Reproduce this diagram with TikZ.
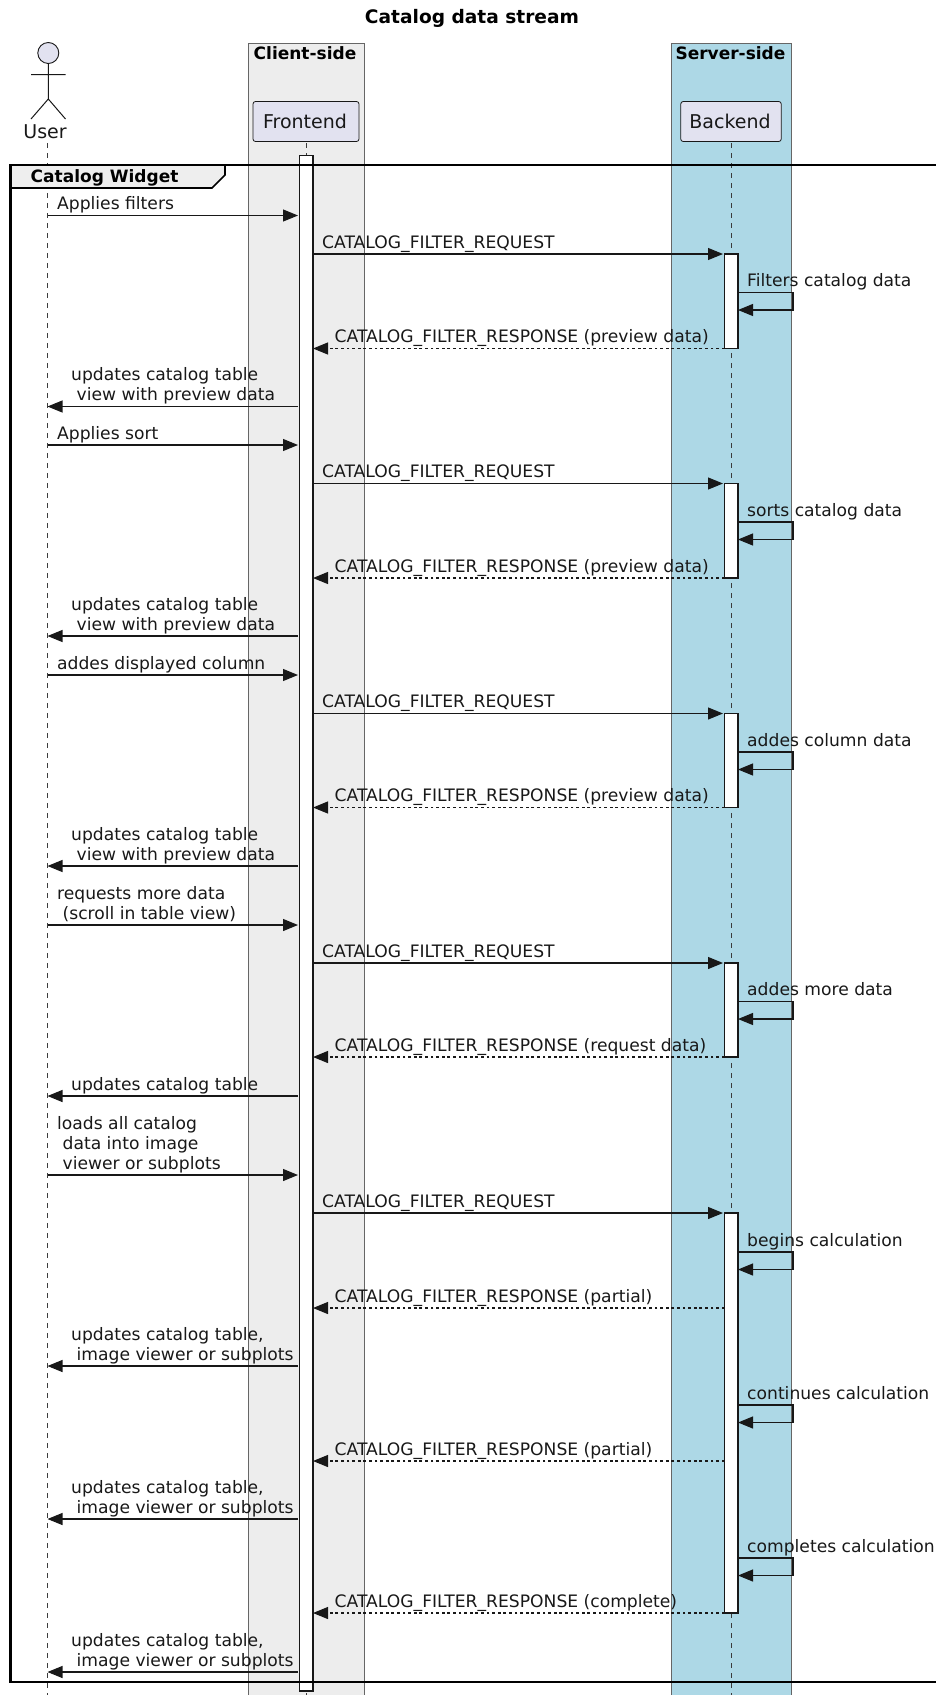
\documentclass[tikz,border=0pt]{standalone}
\usepackage{fontspec}
\setmainfont{DejaVu Sans}
\usetikzlibrary{arrows.meta}
\definecolor{ink}{HTML}{181818}
\definecolor{partfill}{HTML}{E2E2F0}
\definecolor{clientfill}{HTML}{EDEDED}
\definecolor{serverfill}{HTML}{ADD8E6}
\definecolor{tabfill}{HTML}{EEEEEE}
\tikzset{
  msgtext/.style={font=\fontsize{17.15}{20}\selectfont, text=ink, inner sep=0pt, anchor=base west, align=left},
  headtext/.style={font=\bfseries\fontsize{17}{20}\selectfont, text=black, inner sep=0pt, anchor=base},
  part/.style={draw=ink, fill=partfill, rounded corners=2.5pt, line width=0.8pt, minimum height=40pt, inner sep=0pt, font=\fontsize{19}{22}\selectfont, text=ink},
  lifeline/.style={draw=ink!85, line width=0.9pt, dash pattern=on 5pt off 5pt},
  sidebox/.style={draw=black!60, line width=1pt},
  bar/.style={draw=ink, fill=white, line width=1.1pt},
  msg/.style={draw=ink, line width=1.1pt, -{Triangle[length=15pt,width=12pt]}},
  reply/.style={msg, dash pattern=on 2.8pt off 2.8pt},
}
\begin{document}
\begin{tikzpicture}[x=1pt,y=-1pt]
\useasboundingbox (0,0) rectangle (936,1695);
% Title and side boxes
\node[headtext, font=\bfseries\fontsize{18.6}{22}\selectfont] (title) at (472,23) {Catalog data stream};
\filldraw[sidebox, fill=clientfill] (248,1700) -- (248,43) -- (364,43) -- (364,1700);
\filldraw[sidebox, fill=serverfill] (671,1700) -- (671,43) -- (791,43) -- (791,1700);
\node[headtext] (client) at (305,59) {Client-side};
\node[headtext] (server) at (730.5,59) {Server-side};
% Lifelines
\coordinate (userTop) at (47.5,143);
\coordinate (userEnd) at (47.5,1696);
\coordinate (frontTop) at (306,143);
\coordinate (frontEnd) at (306,1696);
\coordinate (backTop) at (731,143);
\coordinate (backEnd) at (731,1696);
\draw[lifeline] (userTop) -- (userEnd);
\draw[lifeline] (frontTop) -- (frontEnd);
\draw[lifeline] (backTop) -- (backEnd);
% Actor
\filldraw[draw=ink, fill=partfill, line width=0.9pt] (48.3,53) circle (10.5pt);
\draw[ink, line width=1pt] (48.3,63.5) -- (48.3,99) (31,74.5) -- (65.5,74.5) (31,119) -- (48.3,99) -- (65.5,119);
\node[font=\fontsize{19}{22}\selectfont, text=ink, inner sep=0pt, anchor=base] (user) at (45,138.7) {User};
% Participants
\node[part, minimum width=106pt, text depth=0pt, text height=14pt] (frontend) at (306,121.5) {\hspace*{-2pt}Frontend};
\node[part, minimum width=100.5pt, text depth=0pt, text height=14pt] (backend) at (731,121.5) {\hspace*{-2pt}Backend};
% Activation bars
\filldraw[bar] (299.5,155.5) rectangle (313,1691);
\foreach \top/\bot in {254/348.5, 483.5/578, 713.5/807.5, 963/1057, 1213/1613} {
    \filldraw[bar] (724.5,\top) rectangle (738,\bot);
}
% Group frame
\filldraw[draw=black, fill=tabfill, line width=1.6pt] (10.5,165) -- (225,165) -- (225,175) -- (212,188) -- (10.5,188) -- cycle;
\draw[black, line width=2.2pt] (940,165) -- (10.5,165) -- (10.5,1682) -- (940,1682);
\node[headtext, anchor=base west] (widget) at (30.5,182.7) {Catalog Widget};
% User to Frontend
\foreach \n/\y/\txt in {a/215.5/{Applies filters}, b/445/{Applies sort}, c/675/{addes displayed column}, d/925/{requests more data\\\ (scroll in table view)}, e/1175/{loads all catalog\\\ data into image\\\ viewer or subplots}} {
    \coordinate (ul\n) at (47.5,\y);
    \coordinate (fl\n) at (298,\y);
    \draw[msg] (ul\n) -- (fl\n);
    \node[msgtext, xshift=9.5pt, yshift=5.7pt] (ask\n) at (ul\n) {\txt};
}
% Frontend to Backend and back
\foreach \n/\y/\z/\txt in {a/254/348.5/preview data, b/483.5/578/preview data, c/713.5/807.5/preview data, d/963/1057/request data, e/1213/1308/partial, f/0/1461/partial, g/0/1613/complete} {
    \coordinate (fq\n) at (313,\y);
    \coordinate (bq\n) at (723,\y);
    \coordinate (fr\n) at (313,\z);
    \coordinate (br\n) at (724.5,\z);
    \ifdim\y pt>0pt
        \draw[msg] (fq\n) -- (bq\n);
        \node[msgtext, xshift=9pt, yshift=5.7pt] (req\n) at (fq\n) {CATALOG\_FILTER\_REQUEST};
    \fi
    \draw[reply] (br\n) -- (fr\n);
    \node[msgtext, xshift=21.5pt, yshift=5.7pt] (res\n) at (fr\n) {CATALOG\_FILTER\_RESPONSE (\txt)};
}
% Backend self messages
\foreach \n/\y/\w/\txt in {a/292.5/310/Filters catalog data, b/522/539.5/sorts catalog data, c/752/769.5/addes column data, d/1001.5/1019/addes more data, e/1252/1269.5/begins calculation, f/1405/1422.5/continues calculation, g/1558/1575.5/completes calculation} {
    \coordinate (ss\n) at (738,\y);
    \coordinate (sr\n) at (793,\y);
    \coordinate (tr\n) at (793,\w);
    \coordinate (ts\n) at (738,\w);
    \draw[msg] (ss\n) -- (sr\n) -- (tr\n) -- (ts\n);
    \node[msgtext, xshift=9pt, yshift=5.7pt] (self\n) at (ss\n) {\txt};
}
% Frontend to User
\foreach \n/\y/\txt in {a/406.5/{updates catalog table\\\ view with preview data}, b/636/{updates catalog table\\\ view with preview data}, c/866/{updates catalog table\\\ view with preview data}, d/1096/{updates catalog table}, e/1366/{updates catalog table,\\\ image viewer or subplots}, f/1519/{updates catalog table,\\\ image viewer or subplots}, g/1672/{updates catalog table,\\\ image viewer or subplots}} {
    \coordinate (fb\n) at (298,\y);
    \coordinate (ub\n) at (47.5,\y);
    \draw[msg] (fb\n) -- (ub\n);
    \node[msgtext, xshift=23.5pt, yshift=5.7pt] (upd\n) at (ub\n) {\txt};
}
\end{tikzpicture}
\end{document}
